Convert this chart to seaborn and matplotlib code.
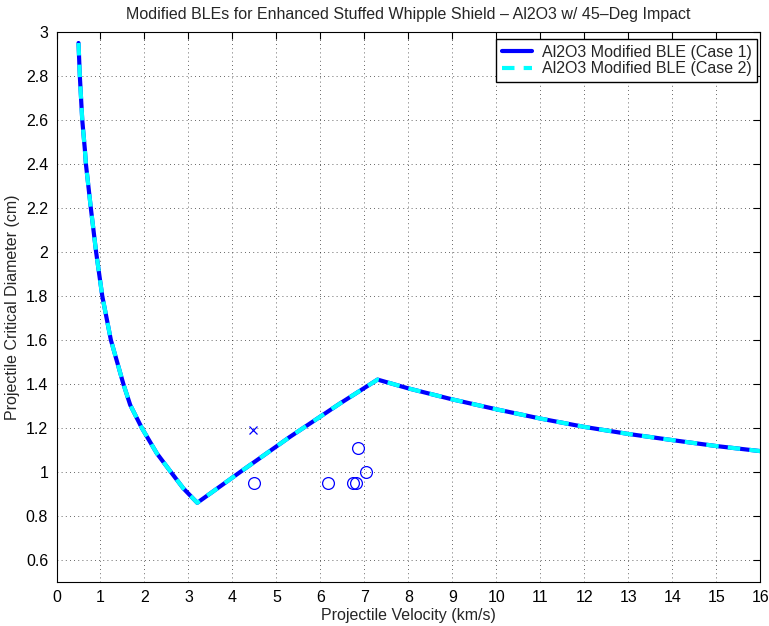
import matplotlib
matplotlib.use("Agg")
import matplotlib.pyplot as plt
import seaborn as sns
import pandas as pd

# BLE curve
velocity = [0.5, 0.53, 0.585, 0.645, 0.668, 0.78, 0.9, 1.04, 1.236, 1.52, 1.675, 1.94,
            2.28, 2.6, 2.886, 3.2, 4.17, 5.31, 6.45, 7.3, 8.0, 9.0, 10.0, 11.0,
            12.0, 13.0, 14.0, 15.0, 16.0]
diameter = [2.95, 2.8, 2.6, 2.464, 2.4, 2.2, 2.0, 1.8, 1.6, 1.4, 1.305, 1.2,
            1.085, 1.0, 0.925, 0.86, 0.999, 1.16, 1.312, 1.42, 1.38, 1.33, 1.285, 1.243,
            1.205, 1.173, 1.145, 1.118, 1.095]

# test points
pass_v = [4.5, 6.17, 6.75, 6.82, 6.85, 7.04]
pass_d = [0.95, 0.95, 0.95, 0.95, 1.11, 1.0]
fail_v = [4.47]
fail_d = [1.19]

title = "Modified BLEs for Enhanced Stuffed Whipple Shield \u2013 Al2O3 w/ 45\u2013Deg Impact"
series_names = ["Al2O3 Modified BLE (Case 1)", "Al2O3 Modified BLE (Case 2)"]
xticks = list(range(0, 17))
yticks = [0.6, 0.8, 1, 1.2, 1.4, 1.6, 1.8, 2, 2.2, 2.4, 2.6, 2.8, 3]

sns.set_style("white")
plt.rcParams["font.family"] = ["Liberation Sans", "DejaVu Sans"]
plt.rcParams["font.size"] = 11

df = pd.DataFrame({"v": velocity, "d": diameter})
pts = pd.DataFrame({"v": pass_v, "d": pass_d})
fpts = pd.DataFrame({"v": fail_v, "d": fail_d})

fig = plt.figure(figsize=(7.69, 6.26), dpi=100)
ax = fig.add_axes([0.0735, 0.0703, 0.915, 0.8786])

sns.lineplot(data=df, x="v", y="d", ax=ax, color="#0000ff", lw=3.0,
             label=series_names[0], sort=False, estimator=None)
sns.lineplot(data=df, x="v", y="d", ax=ax, color="#00ffff", lw=3.0,
             label=series_names[1], sort=False, estimator=None)
ax.lines[0].set_solid_joinstyle("round")
ax.lines[1].set_dashes((3, 2.2))
ax.lines[1].set_dash_joinstyle("round")

ax.plot(pts["v"], pts["d"], linestyle="none", marker="o", markersize=8.5,
        markerfacecolor="none", markeredgecolor="#0000ff", markeredgewidth=0.9)
ax.plot(fpts["v"], fpts["d"], linestyle="none", marker="x", markersize=5.5,
        color="#0000ff", markeredgewidth=0.9)

fs = 11.5
ax.set_xlim(0, 16)
ax.set_ylim(0.5, 3)
ax.set_xticks(xticks)
ax.set_yticks(yticks)
ax.set_xticklabels([str(t) for t in xticks])
ax.set_yticklabels([("%g" % t) for t in yticks])
ax.tick_params(direction="in", length=5, width=0.8, top=True, right=True,
               labelsize=fs, colors="black", pad=6)
for s in ax.spines.values():
    s.set_visible(True)
    s.set_color("black")
    s.set_linewidth(0.8)
ax.grid(True, linestyle=(0, (1, 4)), color="black", linewidth=0.6, alpha=0.8)

ax.set_xlabel("Projectile Velocity (km/s)", fontsize=fs, labelpad=2)
ax.set_ylabel("Projectile Critical Diameter (cm)", fontsize=fs, labelpad=4)
ax.set_title(title, fontsize=fs, pad=9)

leg = ax.legend(loc="upper right", bbox_to_anchor=(0.9957, 0.9873), fontsize=fs,
                frameon=True, fancybox=False, edgecolor="black", framealpha=1,
                handlelength=1.9, borderaxespad=0.0, borderpad=0.35,
                labelspacing=0.12, handletextpad=0.6)
leg.get_frame().set_linewidth(1.0)

fig.savefig("out.png", dpi=100)
